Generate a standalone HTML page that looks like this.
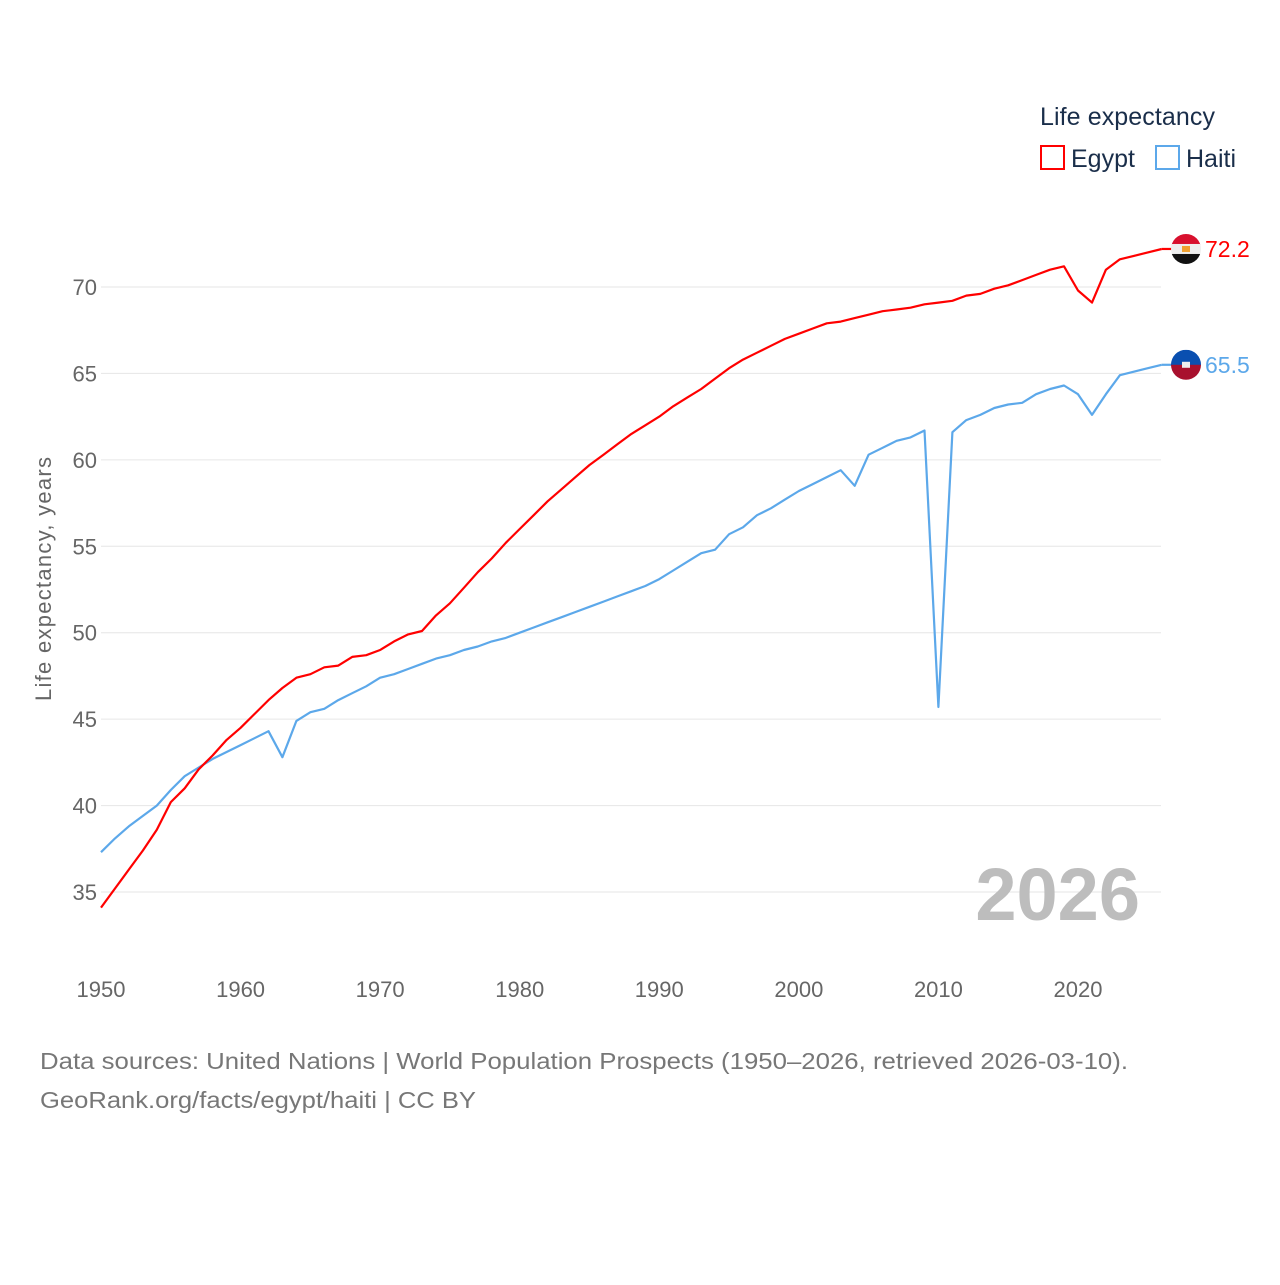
<!DOCTYPE html>
<html><head><meta charset="utf-8">
<style>
html,body{margin:0;padding:0;background:#fff;}
body{width:1280px;height:1280px;overflow:hidden;font-family:"Liberation Sans",sans-serif;}
</style></head>
<body>
<svg id="chart" width="1280" height="1280" xmlns="http://www.w3.org/2000/svg" font-family="Liberation Sans, sans-serif">
  <g id="grid"></g>
  <g id="yticks"></g>
  <g id="xticks"></g>
  <text transform="translate(51,579) rotate(-90)" text-anchor="middle" font-size="22" fill="#666" textLength="244">Life expectancy, years</text>
  <text x="1140" y="920" text-anchor="end" font-size="74" font-weight="bold" fill="#bdbdbd">2026</text>
  <g id="series"></g>
  <g>
    <text x="1040" y="125" font-size="25" fill="#1a2e4a" textLength="175">Life expectancy</text>
    <rect x="1041" y="146" width="23" height="23" fill="none" stroke="#ff0000" stroke-width="2"/>
    <text x="1071" y="167" font-size="25" fill="#1a2e4a">Egypt</text>
    <rect x="1156" y="146" width="23" height="23" fill="none" stroke="#5ca8ea" stroke-width="2"/>
    <text x="1186" y="167" font-size="25" fill="#1a2e4a">Haiti</text>
  </g>
  <g id="endmarks"></g>
  <text x="40" y="1069" font-size="23" fill="#777" textLength="1088" lengthAdjust="spacingAndGlyphs">Data sources: United Nations | World Population Prospects (1950–2026, retrieved 2026-03-10).</text>
  <text x="40" y="1108" font-size="23" fill="#777" textLength="436" lengthAdjust="spacingAndGlyphs">GeoRank.org/facts/egypt/haiti | CC BY</text>
</svg>
<script>
const years = [];
for (let y = 1950; y <= 2026; y++) years.push(y);
const yTicks = [35,40,45,50,55,60,65,70];
const xTicks = [1950,1960,1970,1980,1990,2000,2010,2020];
const egypt = [34.1,35.2,36.3,37.4,38.6,40.2,41.0,42.1,42.9,43.8,
  44.5,45.3,46.1,46.8,47.4,47.6,48.0,48.1,48.6,48.7,
  49.0,49.5,49.9,50.1,51.0,51.7,52.6,53.5,54.3,55.2,
  56.0,56.8,57.6,58.3,59.0,59.7,60.3,60.9,61.5,62.0,
  62.5,63.1,63.6,64.1,64.7,65.3,65.8,66.2,66.6,67.0,
  67.3,67.6,67.9,68.0,68.2,68.4,68.6,68.7,68.8,69.0,
  69.1,69.2,69.5,69.6,69.9,70.1,70.4,70.7,71.0,71.2,
  69.8,69.1,71.0,71.6,71.8,72.0,72.2];
const haiti = [37.3,38.1,38.8,39.4,40.0,40.9,41.7,42.2,42.7,43.1,
  43.5,43.9,44.3,42.8,44.9,45.4,45.6,46.1,46.5,46.9,
  47.4,47.6,47.9,48.2,48.5,48.7,49.0,49.2,49.5,49.7,
  50.0,50.3,50.6,50.9,51.2,51.5,51.8,52.1,52.4,52.7,
  53.1,53.6,54.1,54.6,54.8,55.7,56.1,56.8,57.2,57.7,
  58.2,58.6,59.0,59.4,58.5,60.3,60.7,61.1,61.3,61.7,
  45.7,61.6,62.3,62.6,63.0,63.2,63.3,63.8,64.1,64.3,
  63.8,62.6,63.8,64.9,65.1,65.3,65.5];

const NS = "http://www.w3.org/2000/svg";
const xS = v => 101 + (v - 1950) * (1078 - 101) / 70;
const yS = v => 287 + (70 - v) * (892 - 287) / 35;
function mk(tag, attrs, parent) {
  const e = document.createElementNS(NS, tag);
  for (const k in attrs) e.setAttribute(k, attrs[k]);
  parent.appendChild(e);
  return e;
}
const grid = document.getElementById('grid');
const yt = document.getElementById('yticks');
yTicks.forEach(t => {
  const l = mk('line', {x1: 101, x2: 1161, y1: yS(t), y2: yS(t), stroke: '#e6e6e6', 'stroke-width': 1}, grid);
  
  
  const tx = mk('text', {x: 97, y: yS(t) + 8, 'text-anchor': 'end', 'font-size': 22, fill: '#666'}, yt);
  tx.textContent = t;
  
  
});
const xt = document.getElementById('xticks');
xTicks.forEach(t => {
  const tx = mk('text', {x: xS(t), y: 997, 'text-anchor': 'middle', 'font-size': 22, fill: '#666'}, xt);
  tx.textContent = t;
  
  
});
const series = document.getElementById('series');
function line(vals, color, name) {
  const d = vals.map((v, i) => (i ? 'L' : 'M') + xS(years[i]).toFixed(1) + ',' + yS(v).toFixed(1)).join(' ');
  const p = mk('path', {d: d, fill: 'none', stroke: color, 'stroke-width': 2.2, 'stroke-linejoin': 'round'}, series);
  
  
}
line(haiti, '#5ca8ea', 'haiti-line');
line(egypt, '#ff0000', 'egypt-line');

const em = document.getElementById('endmarks');
function endMark(vals, color, name, stripes, emblem) {
  const v = vals[vals.length - 1];
  const x = xS(years[years.length - 1]), y = yS(v);
  mk('line', {x1: x, x2: x + 12, y1: y, y2: y, stroke: color, 'stroke-width': 2.2}, em);
  const g = mk('g', {}, em);
  
  
  const cx = 1186, r = 15;
  const id = 'clip-' + name;
  const cp = mk('clipPath', {id: id}, g);
  mk('circle', {cx: cx, cy: y, r: r}, cp);
  const h = 2 * r / stripes.length;
  stripes.forEach((c, i) => mk('rect', {x: cx - r, y: y - r + i * h, width: 2 * r, height: h + 0.5, fill: c, 'clip-path': 'url(#' + id + ')'}, g));
  mk('rect', {x: cx - 4, y: y - 3, width: 8, height: 6, fill: emblem}, g);
  const t = mk('text', {x: 1205, y: y + 8, 'font-size': 23, fill: color}, em);
  t.textContent = v.toFixed(1);
  
  
}
endMark(egypt, '#ff0000', 'egypt', ['#d8102e', '#eeeeee', '#111111'], '#f0a030');
endMark(haiti, '#5ca8ea', 'haiti', ['#0a4fb0', '#a8102e'], '#eeeeee');
</script>
</body></html>
